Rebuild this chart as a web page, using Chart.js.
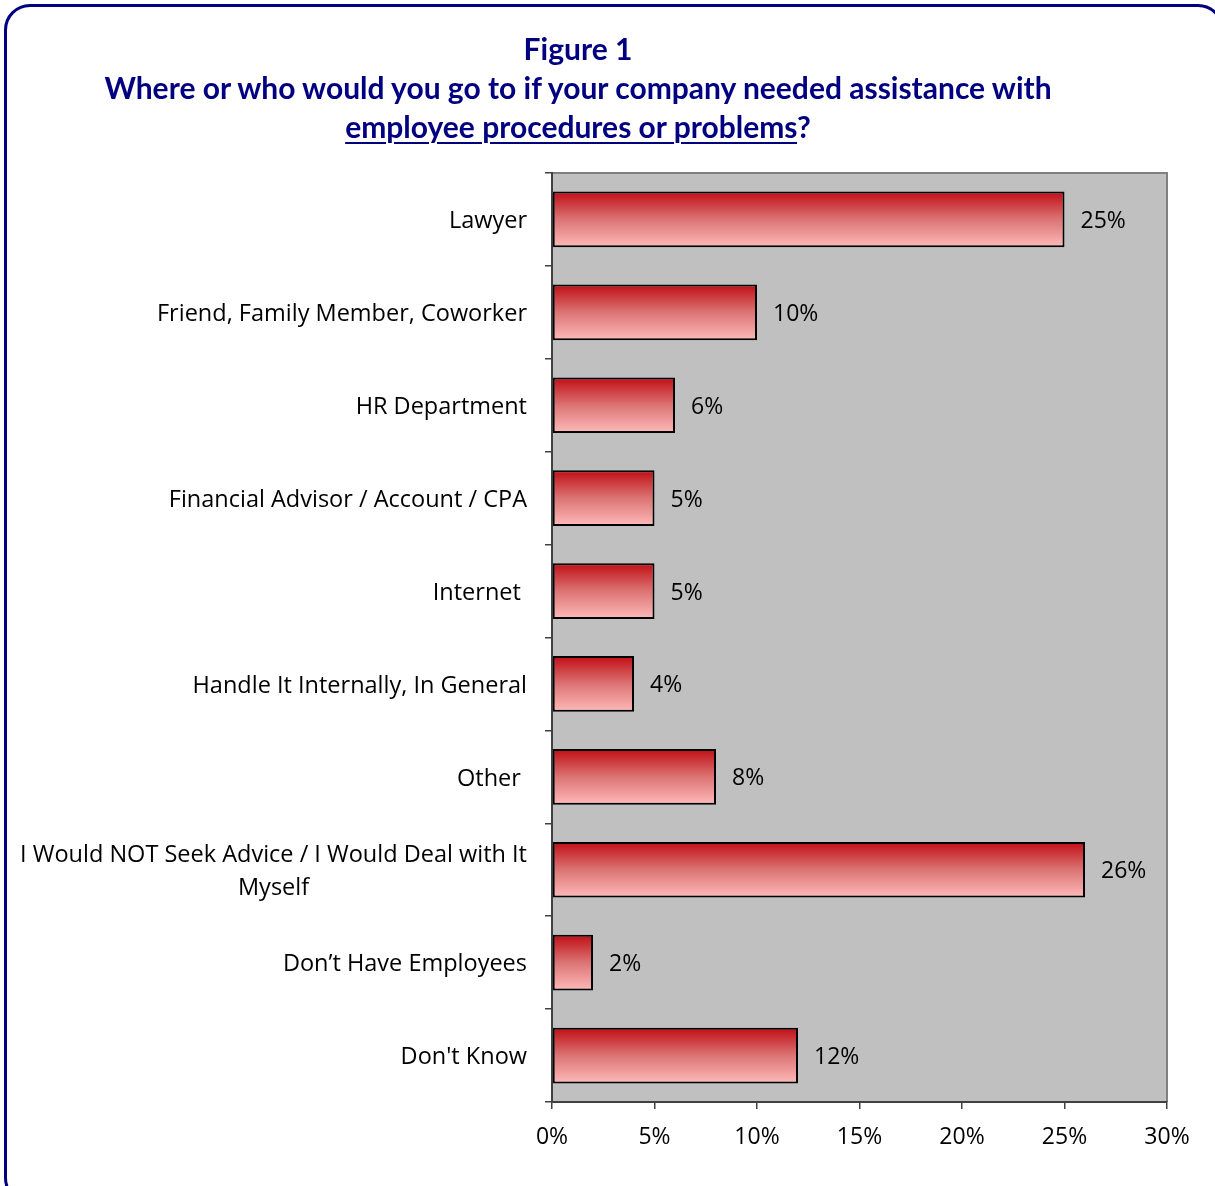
<!DOCTYPE html>
<html>
<head>
<meta charset="utf-8">
<script src="https://cdn.jsdelivr.net/npm/chart.js@4.4.0/dist/chart.umd.min.js"></script>
<style>
  html, body { margin: 0; padding: 0; background: #fff; overflow: hidden; }
  #wrap { position: relative; width: 1215px; height: 1186px; }
  #frame {
    position: absolute; left: 4px; top: 4px; width: 1220px; height: 1200px;
    border: 3px solid #000080; border-radius: 26px; box-sizing: border-box;
  }
  #title {
    position: absolute; left: 0; top: 29px; width: 1156px; text-align: center;
    font-family: Lato, "Open Sans", sans-serif; font-weight: bold; font-size: 30px;
    line-height: 39px; color: #000080;
  }
  #title u { text-decoration-thickness: 2px; text-underline-offset: 4px; }
  canvas { position: absolute; left: 0; top: 0; }
</style>
</head>
<body>
<div id="wrap">
  <div id="frame"></div>
  <canvas id="chart" width="1215" height="1186"></canvas>
  <div id="title">Figure 1<br>Where or who would you go to if your company needed assistance with<br><u>employee procedures or problems</u>?</div>
</div>
<script>
let categories = [
  "Lawyer",
  "Friend, Family Member, Coworker",
  "HR Department",
  "Financial Advisor / Account / CPA",
  "Internet ",
  "Handle It Internally, In General",
  "Other ",
  ["I Would NOT Seek Advice / I Would Deal with It", "Myself"],
  "Don’t Have Employees",
  "Don't Know"
];
let percents = [25, 10, 6, 5, 5, 4, 8, 26, 2, 12];
let xTicks = [0, 5, 10, 15, 20, 25, 30];

let fontName = "'Open Sans', Lato, sans-serif";
let barPct = 0.6;

// red-to-pink fill, recomputed for each bar's own row
function barFill(c) {
  let chart = c.chart;
  let s = chart.scales.y;
  if (!chart.chartArea || !s || c.dataIndex === undefined) return "#d86a6a";
  let y = s.getPixelForValue(c.dataIndex);
  let half = (s.height / categories.length) * barPct / 2;
  let g = chart.ctx.createLinearGradient(0, y - half, 0, y + half);
  g.addColorStop(0, "#c00d14");
  g.addColorStop(0.5, "#dc7474");
  g.addColorStop(1, "#ffbaba");
  return g;
}

let plotBg = {
  id: "plotBg",
  beforeDraw(chart) {
    let a = chart.chartArea, ctx = chart.ctx;
    ctx.save();
    ctx.fillStyle = "#c0c0c0";
    ctx.fillRect(a.left, a.top, a.right - a.left, a.bottom - a.top);
    ctx.strokeStyle = "#808080";
    ctx.lineWidth = 2;
    ctx.beginPath();
    ctx.moveTo(a.left, a.top);
    ctx.lineTo(a.right, a.top);
    ctx.lineTo(a.right, a.bottom);
    ctx.stroke();
    ctx.restore();
  }
};

// category names: right aligned, wrapped lines centred on each other
let catLabels = {
  id: "catLabels",
  afterDraw(chart) {
    let s = chart.scales.y, ctx = chart.ctx;
    ctx.save();
    ctx.font = "23.5px " + fontName;
    ctx.fillStyle = "#000";
    ctx.textBaseline = "middle";
    ctx.textAlign = "center";
    let right = 527, lh = 33;
    categories.forEach((lab, i) => {
      let lines = Array.isArray(lab) ? lab : [lab];
      let w = Math.max(...lines.map(t => ctx.measureText(t).width));
      let y0 = s.getPixelForTick(i) + 2 - (lines.length - 1) * lh / 2;
      lines.forEach((t, k) => ctx.fillText(t, right - w / 2, y0 + k * lh));
    });
    ctx.restore();
  }
};

let valueLabels = {
  id: "valueLabels",
  afterDatasetsDraw(chart) {
    let ctx = chart.ctx;
    ctx.save();
    ctx.font = "23px " + fontName;
    ctx.fillStyle = "#000";
    ctx.textBaseline = "middle";
    ctx.textAlign = "left";
    chart.getDatasetMeta(0).data.forEach((bar, i) => {
      ctx.fillText(percents[i] + "%", bar.x + 16, bar.y + 2);
    });
    ctx.restore();
  }
};

new Chart(document.getElementById("chart"), {
  type: "bar",
  data: {
    labels: categories,
    datasets: [{
      data: percents,
      backgroundColor: barFill,
      borderColor: "#000",
      borderWidth: 2,
      borderSkipped: false,
      barPercentage: barPct,
      categoryPercentage: 1
    }]
  },
  options: {
    indexAxis: "y",
    responsive: false,
    animation: false,
    layout: { padding: { top: 173, right: 48, left: 0, bottom: 0 } },
    plugins: { legend: { display: false }, tooltip: { enabled: false } },
    scales: {
      x: {
        min: 0,
        max: 30,
        afterBuildTicks: s => { s.ticks = xTicks.map(v => ({ value: v })); },
        afterFit: s => { s.height = 84; },
        ticks: {
          callback: v => v + "%",
          color: "#000",
          font: { family: fontName, size: 23 },
          padding: 15,
          maxRotation: 0
        },
        grid: { drawOnChartArea: false, tickLength: 7, color: "#404040", lineWidth: 1.5 },
        border: { color: "#404040", width: 2 }
      },
      y: {
        afterFit: s => { s.width = 552; },
        ticks: { display: false },
        grid: { drawOnChartArea: false, tickLength: 7, color: "#404040", lineWidth: 1.5, offset: true },
        border: { color: "#404040", width: 2 }
      }
    }
  },
  plugins: [plotBg, catLabels, valueLabels]
});
</script>
</body>
</html>
